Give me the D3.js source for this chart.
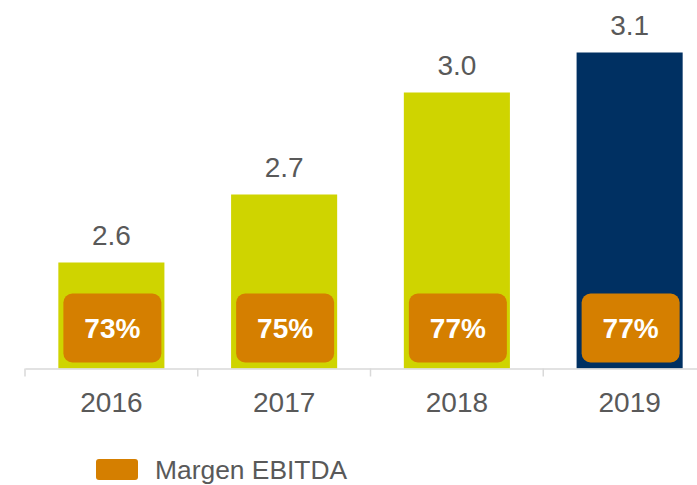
<!DOCTYPE html>
<html>
<head>
<meta charset="utf-8">
<script src="https://cdn.jsdelivr.net/npm/d3@7"></script>
<style>
  body { margin: 0; background: #fff; }
  svg { display: block; font-family: "Liberation Sans", Arial, sans-serif; }
</style>
</head>
<body>
<div id="chart"></div>
<script>
var years = ["2016", "2017", "2018", "2019"];
var ebitda = [2.565, 2.735, 2.99, 3.09];
var margins = ["73%", "75%", "77%", "77%"];
var barColors = ["#cfd400", "#cfd400", "#cfd400", "#003062"];
var legendLabel = "Margen EBITDA";

var width = 697, height = 485;
var baseY = 368.5;
var orange = "#d57f00", grey = "#595959";

var svg = d3.select("#chart").append("svg")
    .attr("width", width)
    .attr("height", height);

var x = d3.scaleBand()
    .domain(years)
    .range([25, 716])
    .paddingInner(0.386)
    .paddingOuter(0.193);

var y = d3.scaleLinear()
    .domain([2.30, 3.10])
    .range([baseY, baseY - 320]);

var data = years.map(function(yr, i) {
  return { year: yr, value: ebitda[i], margin: margins[i], color: barColors[i] };
});

// bars
svg.selectAll("rect.bar").data(data)
  .enter().append("rect")
    .attr("class", "bar")
    .attr("x", function(d) { return x(d.year); })
    .attr("width", x.bandwidth())
    .attr("y", function(d) { return y(d.value); })
    .attr("height", function(d) { return baseY - y(d.value); })
    .attr("fill", function(d) { return d.color; });

// value labels
svg.selectAll("text.val").data(data)
  .enter().append("text")
    .attr("class", "val")
    .attr("x", function(d) { return x(d.year) + x.bandwidth() / 2; })
    .attr("y", function(d) { return y(d.value) - 18; })
    .attr("text-anchor", "middle")
    .attr("fill", grey)
    .style("font-size", "28px")
    .text(function(d) { return d3.format(".1f")(d.value); });

// margin boxes
var boxW = 98, boxH = 69;
svg.selectAll("rect.box").data(data)
  .enter().append("rect")
    .attr("class", "box")
    .attr("x", function(d) { return x(d.year) + x.bandwidth() / 2 - boxW / 2 + 1; })
    .attr("y", baseY - 6 - boxH)
    .attr("width", boxW)
    .attr("height", boxH)
    .attr("rx", 9)
    .attr("fill", orange);

svg.selectAll("text.pct").data(data)
  .enter().append("text")
    .attr("class", "pct")
    .attr("x", function(d) { return x(d.year) + x.bandwidth() / 2 + 1; })
    .attr("y", baseY - 6 - boxH / 2 + 10)
    .attr("text-anchor", "middle")
    .attr("fill", "#fff")
    .style("font-size", "28px")
    .style("font-weight", "bold")
    .text(function(d) { return d.margin; });

// axis
var axis = svg.append("g")
    .attr("transform", "translate(0," + baseY + ")")
    .call(d3.axisBottom(x).tickSize(0).tickPadding(24));
axis.select(".domain").attr("stroke", "#d9d9d9").attr("stroke-width", 1.5);
axis.selectAll("text")
    .attr("fill", grey)
    .style("font-size", "28px")
    .style("font-family", "Liberation Sans, Arial, sans-serif");

// category separators
svg.selectAll("line.sep").data(d3.range(years.length + 1))
  .enter().append("line")
    .attr("class", "sep")
    .attr("x1", function(i) { return x.range()[0] + i * x.step(); })
    .attr("x2", function(i) { return x.range()[0] + i * x.step(); })
    .attr("y1", baseY)
    .attr("y2", baseY + 8)
    .attr("stroke", "#d9d9d9")
    .attr("stroke-width", 1.5);

// legend
svg.append("rect")
    .attr("x", 96).attr("y", 459)
    .attr("width", 42).attr("height", 21)
    .attr("rx", 3)
    .attr("fill", orange);
svg.append("text")
    .attr("x", 155).attr("y", 479)
    .attr("fill", grey)
    .style("font-size", "26.4px")
    .text(legendLabel);
</script>
</body>
</html>
